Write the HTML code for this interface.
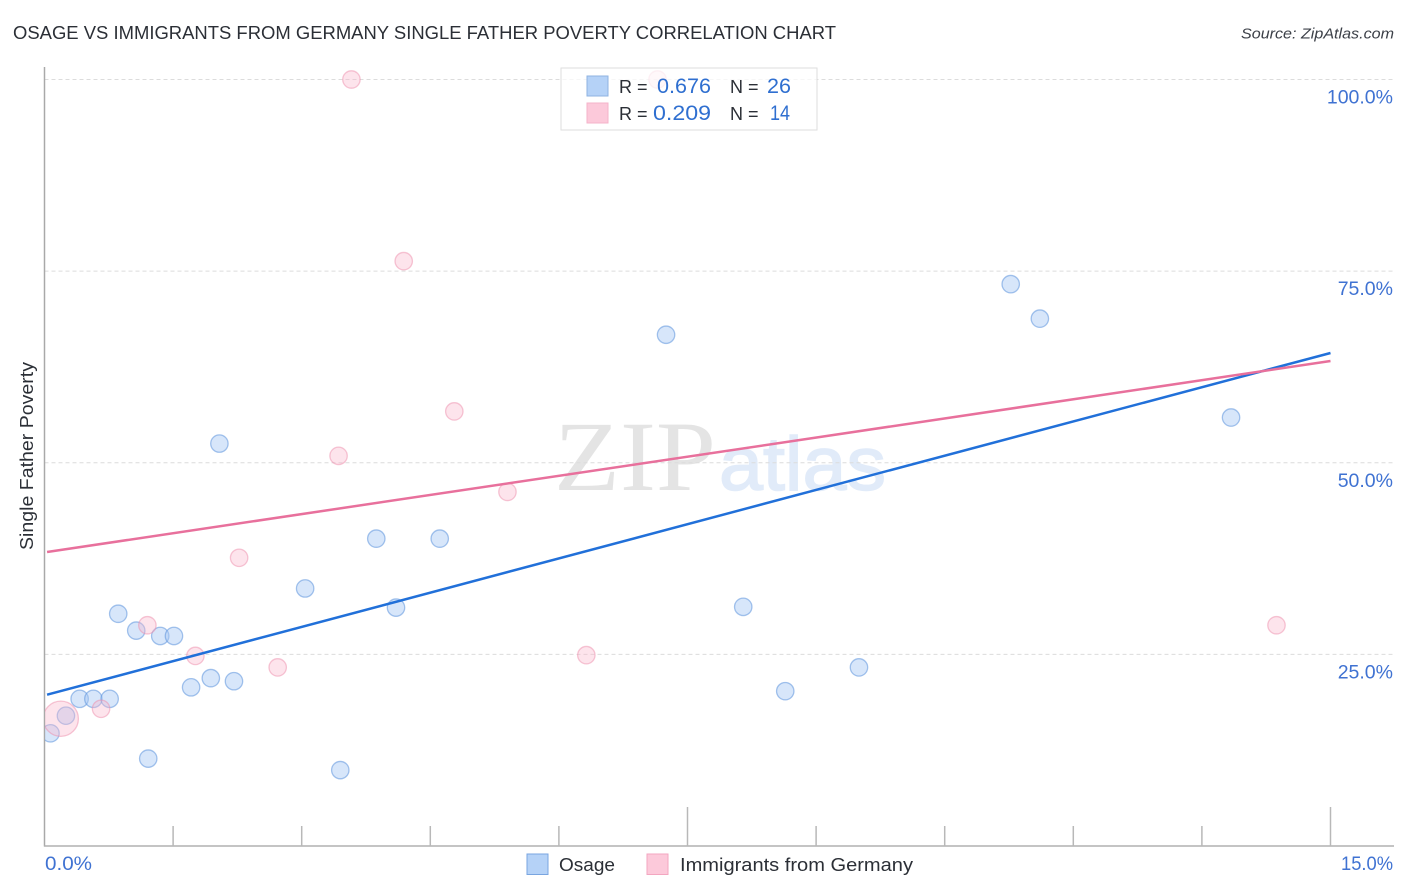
<!DOCTYPE html>
<html>
<head>
<meta charset="utf-8">
<title>Osage vs Immigrants from Germany Single Father Poverty Correlation Chart</title>
<style>
html,body{margin:0;padding:0;background:#fff;width:1406px;height:892px;overflow:hidden}
svg{display:block}
text{font-family:"Liberation Sans",sans-serif}
</style>
</head>
<body>
<svg id="chart" xmlns="http://www.w3.org/2000/svg" width="1406" height="892" viewBox="0 0 1406 892">
  <defs>
    <clipPath id="plot-clip"><rect x="45" y="60" width="1349" height="786"/></clipPath>
  </defs>
  <text x="13" y="39" font-size="18.5" fill="#2b2f36" textLength="823" lengthAdjust="spacingAndGlyphs">OSAGE VS IMMIGRANTS FROM GERMANY SINGLE FATHER POVERTY CORRELATION CHART</text>
  <text x="1394" y="38.500" font-size="15" font-style="italic" fill="#3c4048" text-anchor="end" textLength="153" lengthAdjust="spacingAndGlyphs">Source: ZipAtlas.com</text>
  <text transform="translate(33,550) rotate(-90)" font-size="18" fill="#2b2f36" textLength="188" lengthAdjust="spacingAndGlyphs">Single Father Poverty</text>

  <g>
    <text x="554" y="490" font-size="100" fill="#e4e4e4" textLength="162" lengthAdjust="spacingAndGlyphs" style="font-family:'Liberation Serif',serif">ZIP</text>
    <text x="719" y="490" font-size="76" fill="#e1ebf9" stroke="#e1ebf9" stroke-width="1.5" textLength="167" lengthAdjust="spacingAndGlyphs">atlas</text>
  </g>

  <g id="grid"></g>
  <g id="axes"></g>
  <g id="points-blue" clip-path="url(#plot-clip)"></g>
  <g id="points-pink" clip-path="url(#plot-clip)"></g>
  <g id="trends"></g>
  <g id="tick-labels"></g>

  <g>
    <rect x="561" y="68" width="256" height="62" fill="#fff" fill-opacity="0.75" stroke="#dedede" stroke-width="1"/>
    <rect x="587" y="76" width="21" height="20" fill="#b5d2f7" stroke="#8fb3e2" stroke-width="1"/>
    <rect x="587" y="103" width="21" height="20" fill="#fcc9da" stroke="#f5b3ca" stroke-width="1"/>
    <text x="619" y="93" font-size="18" fill="#2b2f36">R =</text>
    <text x="657" y="93" font-size="21" fill="#2f6fd0" textLength="54" lengthAdjust="spacingAndGlyphs">0.676</text>
    <text x="730" y="93" font-size="18" fill="#2b2f36">N =</text>
    <text x="767" y="93" font-size="21" fill="#2f6fd0" textLength="24" lengthAdjust="spacingAndGlyphs">26</text>
    <text x="619" y="120" font-size="18" fill="#2b2f36">R =</text>
    <text x="653" y="120" font-size="21" fill="#2f6fd0" textLength="58" lengthAdjust="spacingAndGlyphs">0.209</text>
    <text x="730" y="120" font-size="18" fill="#2b2f36">N =</text>
    <text x="770" y="120" font-size="21" fill="#2f6fd0" textLength="20" lengthAdjust="spacingAndGlyphs">14</text>
  </g>

  <g>
    <rect x="527" y="854" width="21" height="20.500" fill="#b5d2f7" stroke="#79a5e0" stroke-width="1"/>
    <text x="559" y="871" font-size="18.500" fill="#2b2f36" textLength="56" lengthAdjust="spacingAndGlyphs">Osage</text>
    <rect x="647" y="854" width="21" height="20.500" fill="#fcc9da" stroke="#f3a6c0" stroke-width="1"/>
    <text x="680" y="871" font-size="18.500" fill="#2b2f36" textLength="233" lengthAdjust="spacingAndGlyphs">Immigrants from Germany</text>
  </g>
</svg>
<script>
const osageX = [0.07,0.25,0.41,0.57,0.76,0.86,1.07,1.35,1.51,1.21,1.71,1.94,2.21,2.04,3.04,3.45,3.87,4.10,4.61,7.25,8.15,8.64,9.50,11.27,11.61,13.84];
const osageY = [14.7,17.0,19.2,19.2,19.2,30.3,28.1,27.4,27.4,11.4,20.7,21.9,21.5,52.5,33.6,9.9,40.1,31.1,40.1,66.7,31.2,20.2,23.3,73.3,68.8,55.9];
const germanyX = [0.19,0.66,1.20,1.76,2.27,2.72,3.43,3.58,4.19,4.78,5.40,6.32,7.15,14.37];
const germanyY = [16.6,17.9,28.8,24.8,37.6,23.3,50.9,100,76.3,56.7,46.2,24.9,100,28.8];
const germanyWeight = [4.1,1,1,1,1,1,1,1,1,1,1,1,1,1];
const trendX = [0.03,15];
const osageTrendY = [19.74,64.32];
const germanyTrendY = [38.36,63.27];
const yTickValues = [25,50,75,100];
const yTickLabels = ['25.0%','50.0%','75.0%','100.0%'];
const xTickValues = [0,1.5,3,4.5,6,7.5,9,10.5,12,13.5,15];
const xEndLabels = ['0.0%','15.0%'];

const NS = 'http://www.w3.org/2000/svg';
const sx = v => 44.5 + v * (1286 / 15);
const sy = v => 846 - v * 7.665;
function mk(tag, attrs, parent){
  const el = document.createElementNS(NS, tag);
  for (const k in attrs) el.setAttribute(k, attrs[k]);
  parent.appendChild(el);
  return el;
}
const grid = document.getElementById('grid');
const axes = document.getElementById('axes');
const labels = document.getElementById('tick-labels');
const blue = document.getElementById('points-blue');
const pink = document.getElementById('points-pink');
const trends = document.getElementById('trends');

yTickValues.forEach((v, i) => {
  const line = mk('line', {x1:44.5, x2:1394, y1:sy(v), y2:sy(v), stroke:'#dcdcdc', 'stroke-width':1, 'stroke-dasharray':'4 3'}, grid);
  
  
  const t = mk('text', {x:1393, y:sy(v) + 24, 'font-size':19.5, fill:'#3f72d2', 'text-anchor':'end'}, labels);
  t.textContent = yTickLabels[i];
  
  
});

const yAxis = mk('line', {x1:44.5, x2:44.5, y1:67, y2:846.5, stroke:'#a9a9a9', 'stroke-width':1.5}, axes);


const xAxis = mk('line', {x1:44, x2:1394, y1:846, y2:846, stroke:'#b0b0b0', 'stroke-width':1.5}, axes);



xTickValues.forEach((v, i) => {
  if (i === 0) return;
  const major = i % 5 === 0;
  const tick = mk('line', {x1:sx(v), x2:sx(v), y1:major ? 807 : 826, y2:846, stroke:'#b8b8b8', 'stroke-width':1.5}, axes);
  
  
});

const x0 = mk('text', {x:45, y:870, 'font-size':19.5, fill:'#3f72d2', textLength:47, lengthAdjust:'spacingAndGlyphs'}, labels);
x0.textContent = xEndLabels[0];


const x1 = mk('text', {x:1393, y:870, 'font-size':19.5, fill:'#3f72d2', 'text-anchor':'end', textLength:52, lengthAdjust:'spacingAndGlyphs'}, labels);
x1.textContent = xEndLabels[1];



osageX.forEach((v, i) => {
  const c = mk('circle', {cx:sx(v), cy:sy(osageY[i]), r:8.7, fill:'#a6c8f3', 'fill-opacity':0.45, stroke:'#5c94dc', 'stroke-opacity':0.55, 'stroke-width':1.3}, blue);
  
  
});
germanyX.forEach((v, i) => {
  const c = mk('circle', {cx:sx(v), cy:sy(germanyY[i]), r:8.7 * Math.sqrt(germanyWeight[i]), fill:'#f9b7cd', 'fill-opacity':0.38, stroke:'#ee8dac', 'stroke-opacity':0.5, 'stroke-width':1.3}, pink);
  
  
});

const blueLine = mk('line', {x1:sx(trendX[0]), x2:sx(trendX[1]), y1:sy(osageTrendY[0]), y2:sy(osageTrendY[1]), stroke:'#2170d9', 'stroke-width':2.5}, trends);


const pinkLine = mk('line', {x1:sx(trendX[0]), x2:sx(trendX[1]), y1:sy(germanyTrendY[0]), y2:sy(germanyTrendY[1]), stroke:'#e8709c', 'stroke-width':2.5}, trends);


</script>
</body>
</html>
